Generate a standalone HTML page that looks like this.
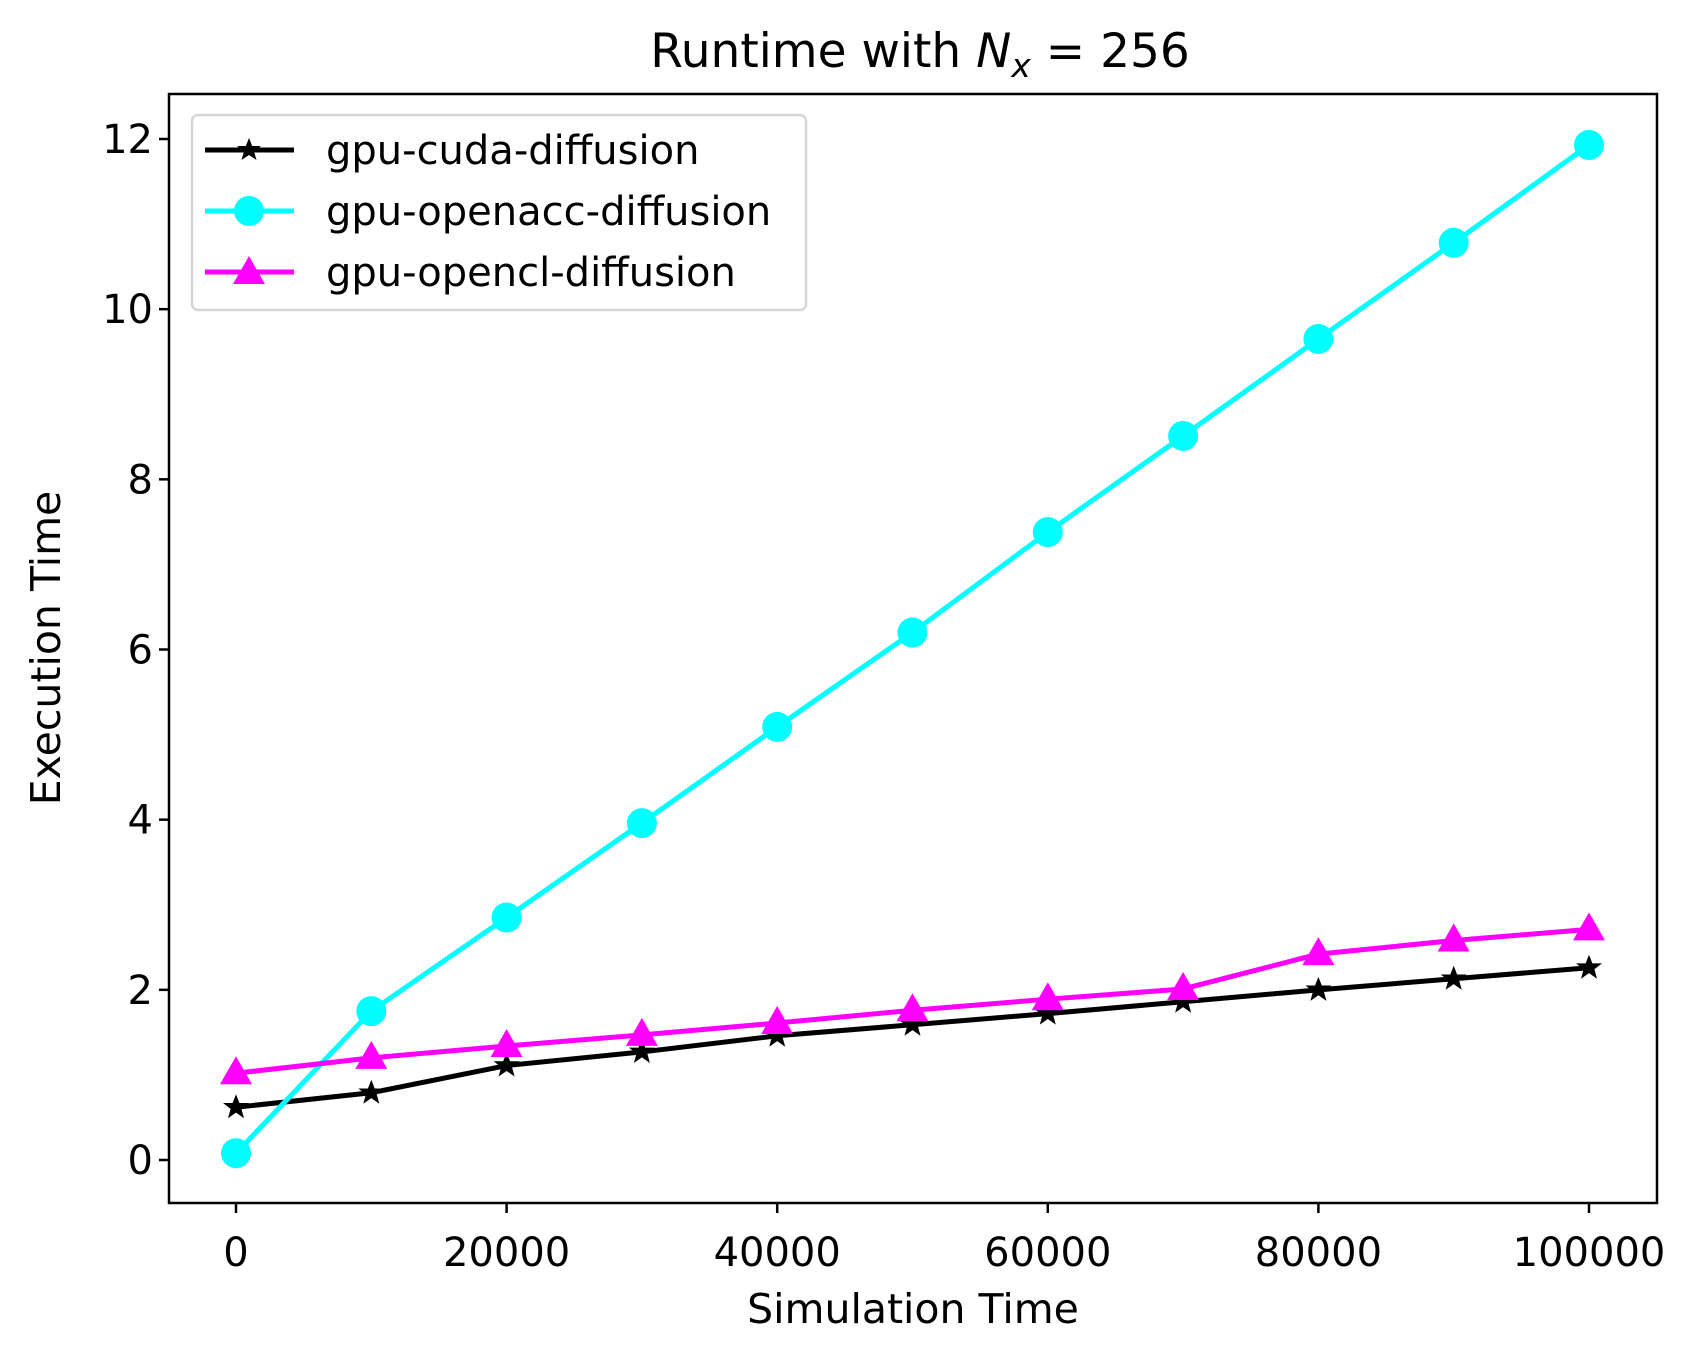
<!DOCTYPE html>
<html><head><meta charset="utf-8"><style>
html,body{margin:0;padding:0;background:#fff}
svg{display:block;font-family:"DejaVu Sans","Liberation Sans",sans-serif}
</style></head><body>
<svg id="chart" width="1698" height="1359" viewBox="0 0 1698 1359" xmlns="http://www.w3.org/2000/svg">
<rect width="1698" height="1359" fill="#fff"/>
<text x="920" y="67" font-size="47" text-anchor="middle">Runtime with <tspan font-style="italic">N</tspan><tspan font-style="italic" font-size="33" dy="10">x</tspan><tspan dy="-10"> = 256</tspan></text>
<g id="plot"></g>
<rect x="169" y="94" width="1488" height="1109" fill="none" stroke="#000" stroke-width="2.5"/>
<text x="913" y="1323" font-size="41" text-anchor="middle">Simulation Time</text>
<text x="60" y="648" font-size="41" text-anchor="middle" transform="rotate(-90 60 648)">Execution Time</text>
<g>
<rect x="192" y="115" width="614" height="195" rx="6" fill="#fff" fill-opacity="0.8" stroke="#d6d6d6" stroke-width="2.5"/>
<g>
<line x1="205" y1="150" x2="294" y2="150" stroke="#000" stroke-width="5"/>
<polygon points="0,-12 3.2,-4 12,-4 5,1.5 7.5,10 0,5 -7.5,10 -5,1.5 -12,-4 -3.2,-4" transform="translate(249 150)" fill="#000"/>
<text x="326" y="164" font-size="40">gpu-cuda-diffusion</text></g>
<g>
<line x1="205" y1="211" x2="294" y2="211" stroke="#00ffff" stroke-width="5"/>
<circle cx="249" cy="211" r="15" fill="#00ffff"/>
<text x="326" y="225" font-size="40">gpu-openacc-diffusion</text></g>
<g>
<line x1="205" y1="272" x2="294" y2="272" stroke="#ff00ff" stroke-width="5"/>
<polygon points="249,256 265,284 233,284" fill="#ff00ff"/>
<text x="326" y="286" font-size="40">gpu-opencl-diffusion</text></g>
</g>
</svg>
<script>
const xValues=[0,10000,20000,30000,40000,50000,60000,70000,80000,90000,100000];
const cudaValues=[0.62,0.79,1.11,1.27,1.46,1.59,1.72,1.86,2.0,2.13,2.26];
const openaccValues=[0.08,1.75,2.85,3.96,5.09,6.2,7.38,8.51,9.65,10.78,11.93];
const openclValues=[1.02,1.2,1.34,1.47,1.61,1.76,1.89,2.01,2.42,2.58,2.71];
const xTicks=[0,20000,40000,60000,80000,100000];
const yTicks=[0,2,4,6,8,10,12];
const NS="http://www.w3.org/2000/svg";
function sx(v){return 236+(v/100000)*(1589-236);}
function sy(v){return 1160-(v/12)*(1160-139);}
const g=document.getElementById('plot');
function mk(t,a,p){const e=document.createElementNS(NS,t);for(const k in a)e.setAttribute(k,a[k]);(p||g).appendChild(e);return e;}
xTicks.forEach(t=>{
 const tk=mk('line',{x1:sx(t),x2:sx(t),y1:1203,y2:1213,stroke:'#000','stroke-width':2.5});
 
 
 const tl=mk('text',{x:sx(t),y:1266,'font-size':40,'text-anchor':'middle'});
 tl.textContent=t;
 
 
});
yTicks.forEach(t=>{
 const tk=mk('line',{x1:159,x2:169,y1:sy(t),y2:sy(t),stroke:'#000','stroke-width':2.5});
 
 
 const tl=mk('text',{x:153,y:sy(t)+14,'font-size':40,'text-anchor':'end'});
 tl.textContent=t;
 
 
});
function series(vals,color,name,marker){
 const sg=mk('g',{});
 
 
 const pl=mk('polyline',{points:vals.map((v,i)=>sx(xValues[i])+','+sy(v)).join(' '),fill:'none',stroke:color,'stroke-width':5,'stroke-linejoin':'round'},sg);
 
 
 vals.forEach((v,i)=>{
  const x=sx(xValues[i]),y=sy(v);let m;
  if(marker==='circle')m=mk('circle',{cx:x,cy:y,r:15,fill:color},sg);
  else if(marker==='tri')m=mk('polygon',{points:`${x},${y-17} ${x+16},${y+11} ${x-16},${y+11}`,fill:color},sg);
  else m=mk('polygon',{points:'0,-13 3.4,-4.3 13,-4.3 5.4,1.6 8,11 0,5.4 -8,11 -5.4,1.6 -13,-4.3 -3.4,-4.3',transform:`translate(${x} ${y})`,fill:color},sg);
  
  
 });
}
series(cudaValues,'#000','cuda','star');
series(openaccValues,'#00ffff','openacc','circle');
series(openclValues,'#ff00ff','opencl','tri');
</script>
</body></html>
